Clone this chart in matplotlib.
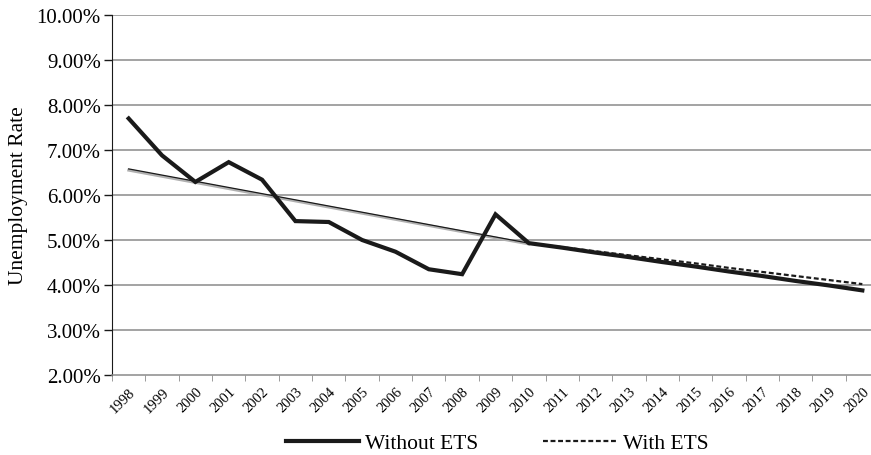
import matplotlib.pyplot as plt
import numpy as np

plt.rcParams['font.family'] = ['Liberation Serif', 'DejaVu Serif']

years = [str(y) for y in range(1998, 2021)]

# observed rate 1998-2010
historical = [7.70, 6.88, 6.29, 6.73, 6.34, 5.42, 5.40, 5.00, 4.74, 4.35, 4.24, 5.57, 4.93]
# projections 2010-2020
without_ets = [4.93, 4.83, 4.72, 4.62, 4.51, 4.41, 4.30, 4.20, 4.09, 3.99, 3.88]
with_ets = [4.93, 4.84, 4.75, 4.66, 4.57, 4.48, 4.38, 4.29, 4.20, 4.11, 4.02]
# linear trend 1998-2010
trend = [6.58, 4.93]
trend_fit = [6.55, 4.91]

yticks = [2, 3, 4, 5, 6, 7, 8, 9, 10]

fig = plt.figure(figsize=(8.71, 4.56), dpi=100)
ax = fig.add_axes([112 / 871, 80 / 456, 767 / 871, 360 / 456])

x_hist = np.arange(len(historical))
x_proj = np.arange(len(historical) - 1, len(years))
x_trend = [0, len(historical) - 1]

for y in yticks[1:]:
    ax.axhline(y, color='#8a8a8a', lw=1.1, zorder=1)

ax.plot(x_trend, trend_fit, color='#b0b0b0', lw=2.0, zorder=2)
ax.plot(x_trend, trend, color='#1a1a1a', lw=0.9, zorder=3)
ax.plot(x_proj, with_ets, color='#1a1a1a', lw=1.6, ls=(0, (2.2, 1.2)), zorder=5)
ax.plot(np.concatenate([x_hist, x_proj[1:]]), historical + without_ets[1:],
        color='#1a1a1a', lw=3.0, solid_joinstyle='miter', zorder=4)

ax.set_xlim(-0.5, len(years) - 0.5)
ax.set_ylim(2, 10)
ax.set_yticks(yticks)
ax.set_yticklabels(['%.2f%%' % v for v in yticks], fontsize=15)
ax.set_xticks(np.arange(len(years)))
ax.set_xticklabels(years, rotation=45, ha='right', va='top', rotation_mode='anchor', fontsize=10.5)
ax.set_xticks(np.arange(len(years) + 1) - 0.5, minor=True)
ax.tick_params(axis='x', which='major', length=0, pad=7)
ax.tick_params(axis='x', which='minor', length=4, color='#8a8a8a', direction='out')
ax.tick_params(axis='y', length=6, width=1, color='#1a1a1a', pad=2)

for s in ['top', 'right']:
    ax.spines[s].set_visible(False)
ax.spines['left'].set_color('#1a1a1a')
ax.spines['bottom'].set_color('#8a8a8a')
ax.spines['bottom'].set_linewidth(1.1)

ax.set_ylabel('Unemployment Rate', fontsize=15.5, labelpad=6)

h1, = ax.plot([], [], color='#1a1a1a', lw=3.0, label='Without ETS')
h2, = ax.plot([], [], color='#1a1a1a', lw=1.6, ls=(0, (2.2, 1.2)), label='With ETS')
fig.legend(handles=[h1, h2], loc='center', bbox_to_anchor=(497 / 871, 1 - 444 / 456),
           ncol=2, frameon=False, fontsize=15.5, handlelength=3.4, columnspacing=3.0,
           handletextpad=0.3, borderpad=0.1)

fig.savefig('out.png', dpi=100)
